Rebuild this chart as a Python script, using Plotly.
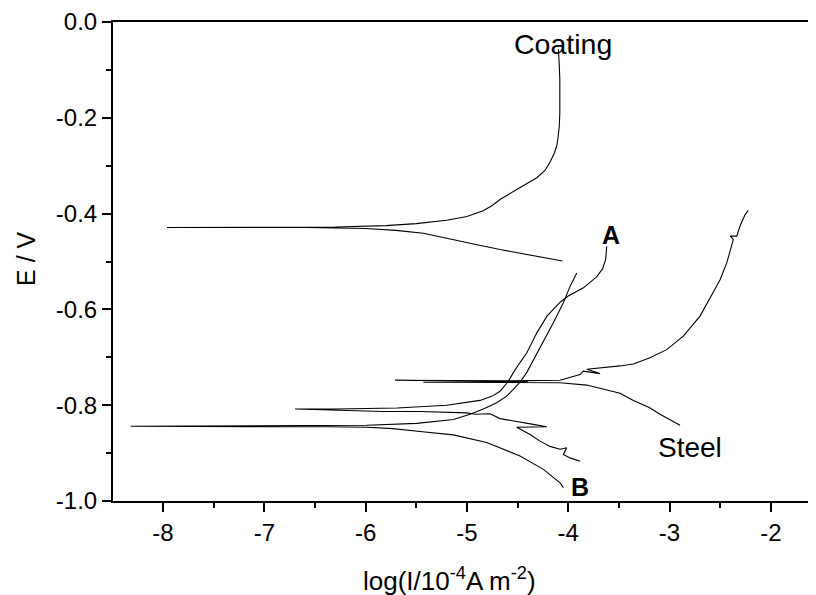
import plotly.graph_objects as go

# Polarization curves: log(I) vs E
coating_x = [-4.058, -4.3, -4.673, -4.9, -5.167, -5.43, -5.7, -6.0, -6.3, -6.6,
             -7.961,
             -6.6, -6.3, -5.8, -5.5, -5.2, -5.0, -4.84, -4.75, -4.67, -4.51,
             -4.40, -4.31, -4.23, -4.18, -4.14, -4.114, -4.10, -4.088, -4.083,
             -4.081, -4.083, -4.088, -4.097]
coating_y = [-0.499, -0.490, -0.475, -0.465, -0.453, -0.441, -0.435, -0.431,
             -0.430, -0.429, -0.429,
             -0.429, -0.428, -0.425, -0.421, -0.414, -0.406, -0.394, -0.383,
             -0.370, -0.350, -0.338, -0.325, -0.310, -0.293, -0.275, -0.259,
             -0.240, -0.217, -0.190, -0.162, -0.120, -0.092, -0.057]

a_x = [-3.883, -3.982, -4.048, -4.015, -4.081, -4.180, -4.278, -4.377, -4.508,
       -4.212, -4.345, -4.476, -4.673, -4.772, -4.920, -5.002, -5.463, -5.825,
       -6.3, -6.697,
       -6.3, -5.69, -5.199, -4.871, -4.75, -4.673, -4.591, -4.542, -4.476,
       -4.41, -4.31, -4.21, -4.08, -4.0, -3.85, -3.72, -3.66, -3.63, -3.62]
a_y = [-0.917, -0.910, -0.903, -0.889, -0.892, -0.886, -0.875, -0.861, -0.846,
       -0.845, -0.840, -0.835, -0.828, -0.818, -0.819, -0.816, -0.813, -0.813,
       -0.811, -0.808,
       -0.808, -0.806, -0.800, -0.790, -0.781, -0.771, -0.750, -0.732, -0.711,
       -0.691, -0.649, -0.614, -0.585, -0.572, -0.555, -0.532, -0.515, -0.495,
       -0.468]

b_x = [-4.048, -4.081, -4.245, -4.476, -4.805, -5.134, -5.463, -5.660, -5.730,
       -5.989, -6.38, -8.319,
       -6.38, -5.989, -5.496, -5.134, -4.969, -4.838, -4.706, -4.608, -4.542,
       -4.476, -4.410, -4.278, -4.147, -4.048, -3.982, -3.916]
b_y = [-0.972, -0.962, -0.934, -0.906, -0.878, -0.862, -0.855, -0.851, -0.849,
       -0.846, -0.845, -0.844,
       -0.843, -0.842, -0.838, -0.830, -0.819, -0.808, -0.795, -0.781, -0.767,
       -0.752, -0.732, -0.680, -0.628, -0.586, -0.552, -0.524]

steel_x = [-2.896, -3.0, -3.094, -3.2, -3.357, -3.489, -3.686, -3.817, -4.081,
           -5.430, -4.4, -5.710, -4.5, -5.0, -4.3, -4.081, -3.883, -3.851,
           -3.686, -3.817, -3.489, -3.357, -3.193, -3.028, -2.864, -2.699,
           -2.600, -2.501, -2.435, -2.370, -2.40, -2.336, -2.304, -2.254,
           -2.222]
steel_y = [-0.842, -0.830, -0.819, -0.805, -0.790, -0.775, -0.764, -0.758,
           -0.753, -0.752, -0.751, -0.748, -0.749, -0.750, -0.749, -0.748,
           -0.736, -0.729, -0.734, -0.725, -0.718, -0.714, -0.701, -0.684,
           -0.656, -0.614, -0.576, -0.538, -0.503, -0.454, -0.447, -0.447,
           -0.426, -0.402, -0.393]

x_ticks = [-8, -7, -6, -5, -4, -3, -2]
x_tick_text = ["-8", "-7", "-6", "-5", "-4", "-3", "-2"]
y_ticks = [0.0, -0.2, -0.4, -0.6, -0.8, -1.0]
y_tick_text = ["0.0", "-0.2", "-0.4", "-0.6", "-0.8", "-1.0"]

labels = ["Coating", "A", "Steel", "B"]
label_x = [-4.056, -3.582, -2.798, -3.884]
label_y = [-0.045, -0.444, -0.888, -0.970]

FONT = "Liberation Sans, Arial, Helvetica, sans-serif"
line = dict(color="black", width=1.1)

fig = go.Figure()
for xs, ys, nm in [(coating_x, coating_y, "Coating"), (a_x, a_y, "A"),
                   (b_x, b_y, "B"), (steel_x, steel_y, "Steel")]:
    fig.add_trace(go.Scatter(x=xs, y=ys, mode="lines", line=line, name=nm,
                             showlegend=False))

label_fonts = [dict(size=28.5), dict(size=25, weight="bold"),
               dict(size=28), dict(size=25, weight="bold")]
for t, lx, ly, f in zip(labels, label_x, label_y, label_fonts):
    fig.add_annotation(x=lx, y=ly, text=t, showarrow=False,
                       xanchor="center", yanchor="middle",
                       font=dict(family=FONT, color="black", **f))

# axis titles
fig.add_annotation(xref="paper", yref="paper", x=0.478, y=-0.163,
                   text="log(I/10<sup>-4</sup>A m<sup>-2</sup>)",
                   showarrow=False, xanchor="center", yanchor="middle",
                   font=dict(family=FONT, color="black", size=26))
fig.add_annotation(xref="paper", yref="paper", x=-0.124, y=0.507,
                   text="E / V", textangle=-90,
                   showarrow=False, xanchor="center", yanchor="middle",
                   font=dict(family=FONT, color="black", size=25))

# page body has an 8px margin, so the figure is offset by 8px
fig.update_layout(
    width=808, height=587,
    margin=dict(l=105, r=0, t=14, b=94, autoexpand=False),
    paper_bgcolor="white", plot_bgcolor="white",
    font=dict(family=FONT, color="black", size=24),
    xaxis=dict(range=[-8.494, -1.554], tickvals=x_ticks, ticktext=x_tick_text,
               ticks="outside", ticklen=9, tickwidth=1.5, tickcolor="black",
               showline=True, linecolor="black", linewidth=2, mirror=True,
               showgrid=False, zeroline=False, automargin=False,
               minor=dict(dtick=0.5, tick0=0, ticks="outside", ticklen=5,
                          tickwidth=1.5, tickcolor="black", showgrid=False),
               tickfont=dict(size=24)),
    yaxis=dict(range=[-1.0, 0.0], tickvals=y_ticks, ticktext=y_tick_text,
               ticks="outside", ticklen=9, tickwidth=1.5, tickcolor="black",
               showline=True, linecolor="black", linewidth=2,
               showgrid=False, zeroline=False, automargin=False,
               minor=dict(dtick=0.1, tick0=0, ticks="outside", ticklen=5,
                          tickwidth=1.5, tickcolor="black", showgrid=False),
               tickfont=dict(size=24)),
)

fig.write_html("out.html")
